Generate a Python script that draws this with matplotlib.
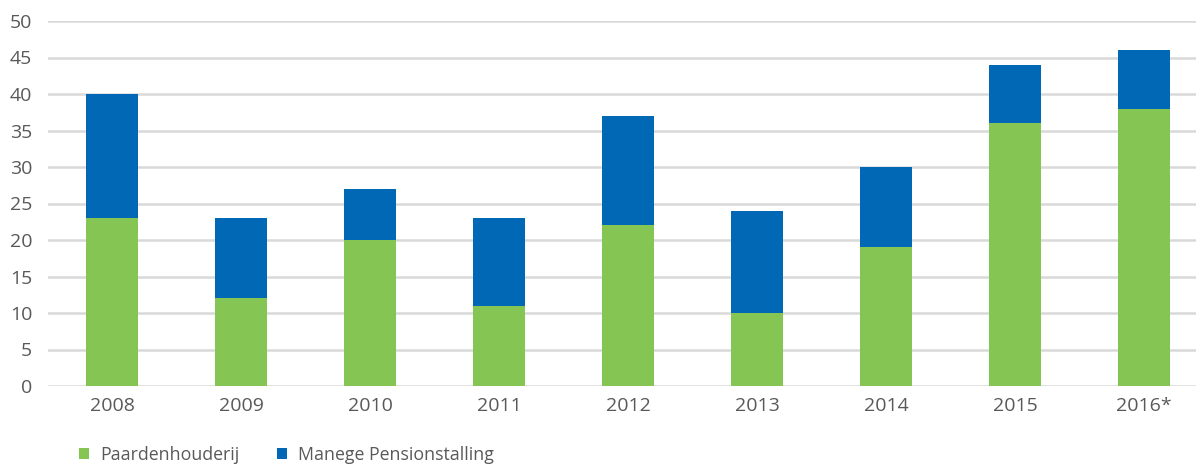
import matplotlib
matplotlib.use("Agg")
import matplotlib.pyplot as plt
import numpy as np

years = ['2008', '2009', '2010', '2011', '2012', '2013', '2014', '2015', '2016*']
paardenhouderij = [23, 12, 20, 11, 22, 10, 19, 36, 38]
manege = [17, 11, 7, 12, 15, 14, 11, 8, 8]

green = '#84c553'
blue = '#0068b5'
grey_text = '#595959'

plt.rcParams['font.family'] = ['Open Sans', 'DejaVu Sans']

fig = plt.figure(figsize=(11.96, 4.68), dpi=100)
# plot area runs a little past the right edge, like in the source
ax = fig.add_axes([47.5 / 1196, 1 - 386 / 468, (9 * 129) / 1196, 365 / 468])

x = np.arange(len(years))
ax.bar(x, paardenhouderij, width=0.41, color=green, label='Paardenhouderij', zorder=3)
ax.bar(x, manege, width=0.41, bottom=paardenhouderij, color=blue,
       label='Manege Pensionstalling', zorder=3)

ax.set_xlim(-0.5, len(years) - 0.5)
ax.set_ylim(0, 50)
ax.set_yticks(range(0, 51, 5))
ax.set_xticks(x)
ax.set_xticklabels(years)
ax.yaxis.grid(True, color='#d9d9d9', linewidth=1.8, zorder=0)
ax.set_axisbelow(True)
for s in ax.spines.values():
    s.set_visible(False)
ax.tick_params(axis='both', length=0, labelsize=14, colors=grey_text)
ax.tick_params(axis='y', pad=11)
ax.tick_params(axis='x', pad=8)

fig.legend(loc='center left', bbox_to_anchor=(79 / 1196, 1 - 455 / 468), ncol=2,
           frameon=False, fontsize=12.8, labelcolor=grey_text,
           borderpad=0, borderaxespad=0,
           handlelength=0.55, handleheight=0.55, handletextpad=0.65, columnspacing=2.1)

fig.savefig('out.png', dpi=100)
